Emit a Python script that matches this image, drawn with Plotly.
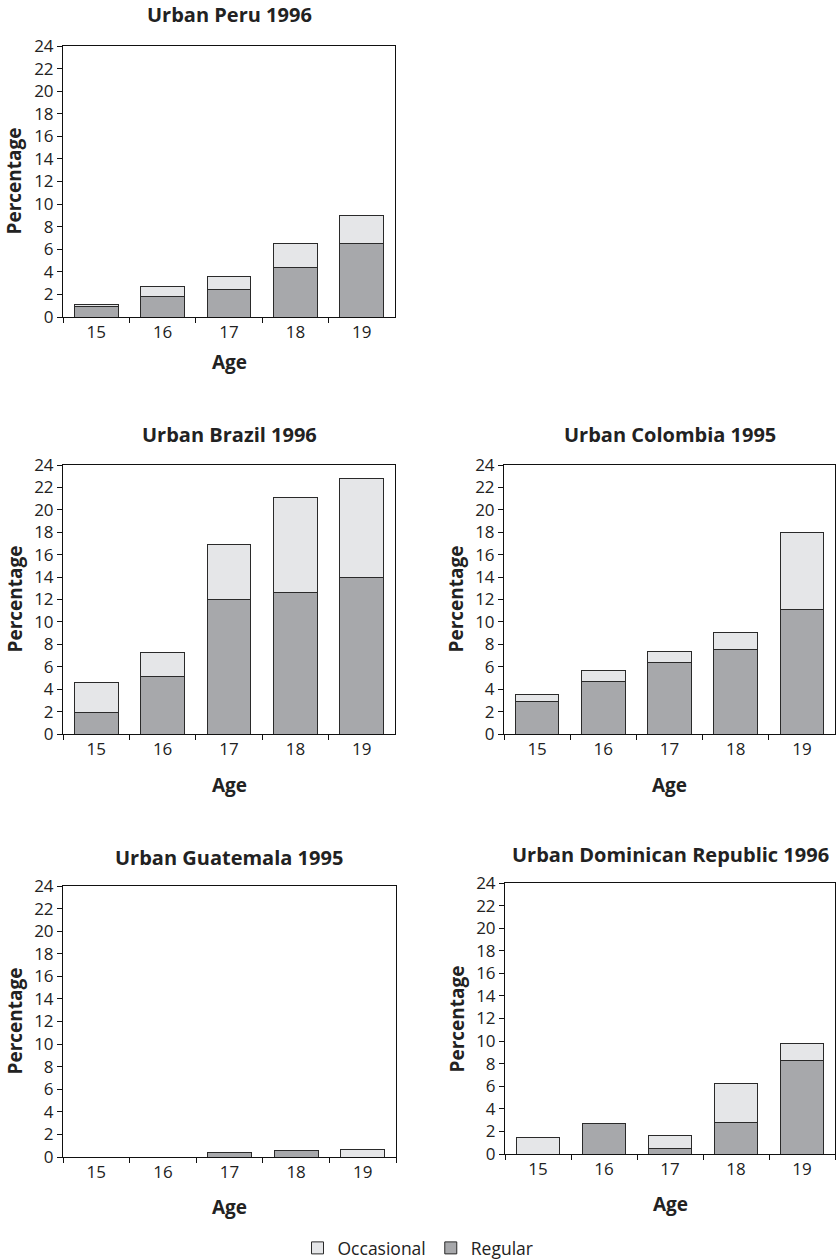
import plotly.graph_objects as go

ages = ["15", "16", "17", "18", "19"]

peru_regular = [0.9, 1.8, 2.4, 4.4, 6.5]
peru_occasional = [0.2, 0.9, 1.2, 2.1, 2.5]

brazil_regular = [1.9, 5.1, 12.0, 12.6, 14.0]
brazil_occasional = [2.7, 2.2, 4.9, 8.5, 8.8]

colombia_regular = [2.9, 4.7, 6.4, 7.5, 11.1]
colombia_occasional = [0.6, 1.0, 1.0, 1.6, 6.9]

guatemala_regular = [0, 0, 0.38, 0.6, 0]
guatemala_occasional = [0, 0, 0, 0, 0.68]

dominican_regular = [0, 2.7, 0.5, 2.8, 8.3]
dominican_occasional = [1.5, 0, 1.1, 3.4, 1.5]

titles = ["Urban Peru 1996", "Urban Brazil 1996", "Urban Colombia 1995",
          "Urban Guatemala 1995", "Urban Dominican Republic 1996"]
y_ticks = list(range(0, 25, 2))

W, H = 836, 1260
FONT = "Open Sans, Noto Sans, sans-serif"
REG_COLOR = "#a7a8ab"
OCC_COLOR = "#e5e6e8"
EDGE = "#2a2a2a"
TXT = "#222"

# pixel boxes: (left, right, top, bottom)
boxes = [
    (63, 395, 46, 317),
    (63, 395, 465, 734),
    (504, 835, 465, 734),
    (63, 396, 886, 1157),
    (505, 835, 883, 1154),
]
title_y = [15, 434, 434, 857, 854]
age_y = [362, 785, 785, 1207, 1204]

data = [
    (peru_regular, peru_occasional),
    (brazil_regular, brazil_occasional),
    (colombia_regular, colombia_occasional),
    (guatemala_regular, guatemala_occasional),
    (dominican_regular, dominican_occasional),
]


def nz(vals):
    # zero-height segments are not drawn at all
    return [v if v > 0 else None for v in vals]


fig = go.Figure()
annotations = []
layout_axes = {}

for i, ((reg, occ), (l, r, t, b)) in enumerate(zip(data, boxes)):
    n = i + 1
    xa = "x" if n == 1 else f"x{n}"
    ya = "y" if n == 1 else f"y{n}"
    fig.add_trace(go.Bar(
        x=ages, y=nz(reg), name="Regular", xaxis=xa, yaxis=ya,
        marker=dict(color=REG_COLOR, line=dict(color=EDGE, width=1)),
        showlegend=(i == 0), legendgroup="reg",
    ))
    fig.add_trace(go.Bar(
        x=ages, y=nz(occ), name="Occasional", xaxis=xa, yaxis=ya,
        marker=dict(color=OCC_COLOR, line=dict(color=EDGE, width=1)),
        showlegend=(i == 0), legendgroup="occ",
    ))
    xkey = "xaxis" if n == 1 else f"xaxis{n}"
    ykey = "yaxis" if n == 1 else f"yaxis{n}"
    layout_axes[xkey] = dict(
        domain=[l / W, r / W], anchor=ya, type="category",
        categoryorder="array", categoryarray=ages,
        showline=True, mirror=True, linecolor="#111", linewidth=1,
        ticks="outside", ticklen=5, tickcolor="#111", tickson="boundaries",
        showgrid=False, tickfont=dict(family=FONT, size=17, color=TXT),
        fixedrange=True,
    )
    layout_axes[ykey] = dict(
        domain=[1 - b / H, 1 - t / H], anchor=xa, range=[0, 24],
        tickvals=y_ticks, showline=True, mirror=True, linecolor="#111",
        linewidth=1, ticks="outside", ticklen=5, tickcolor="#111",
        showgrid=False, zeroline=False,
        tickfont=dict(family=FONT, size=17, color=TXT), fixedrange=True,
    )
    cx = (l + r) / 2 / W
    annotations.append(dict(
        text=f"<b>{titles[i]}</b>", x=cx,
        y=1 - title_y[i] / H, xref="paper", yref="paper", showarrow=False,
        font=dict(family=FONT, size=20, color=TXT), xanchor="center", yanchor="middle",
    ))
    annotations.append(dict(
        text="<b>Age</b>", x=cx, y=1 - age_y[i] / H, xref="paper", yref="paper",
        showarrow=False, font=dict(family=FONT, size=19, color=TXT),
        xanchor="center", yanchor="middle",
    ))
    annotations.append(dict(
        text="<b>Percentage</b>", x=(l - 49) / W, y=1 - (t + b) / 2 / H,
        xref="paper", yref="paper", showarrow=False, textangle=-90,
        font=dict(family=FONT, size=19, color=TXT),
        xanchor="center", yanchor="middle",
    ))

fig.update_layout(
    width=W, height=H,
    margin=dict(l=0, r=0, t=0, b=0, pad=0, autoexpand=False),
    paper_bgcolor="white", plot_bgcolor="white",
    barmode="stack", bargap=0.34,
    annotations=annotations,
    legend=dict(orientation="h", x=0.5, xanchor="center", y=1 - 1248 / H,
                yanchor="middle", traceorder="reversed",
                font=dict(family=FONT, size=17.5, color=TXT),
                itemwidth=30, tracegroupgap=0),
    font=dict(family=FONT),
    **layout_axes,
)

fig.write_html("out.html")
